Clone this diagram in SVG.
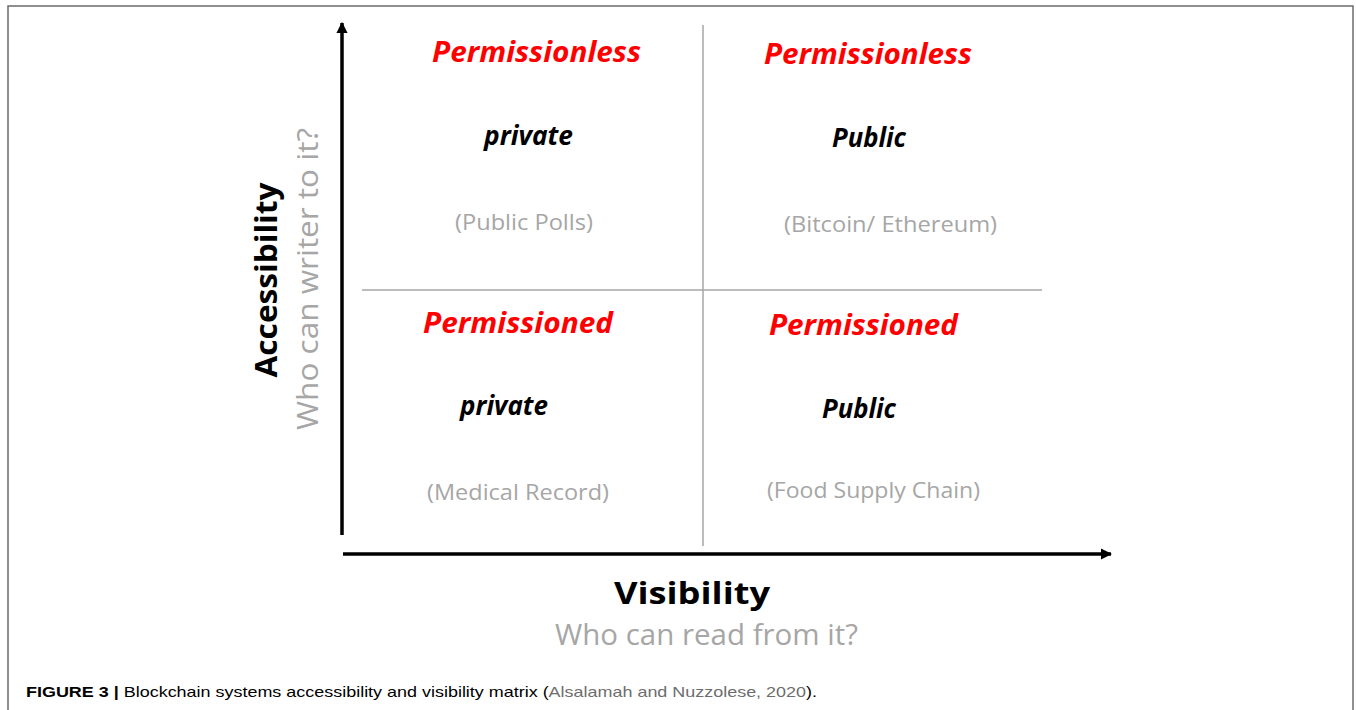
<svg xmlns="http://www.w3.org/2000/svg" width="1356" height="710" viewBox="0 0 1356 710">
<style>
.frame{fill:none;stroke:#6b6b6b;stroke-width:1.5}
.axis{stroke:#000;stroke-width:3.5;fill:none}
.grid{stroke:#a6a6a6;stroke-width:1.5;fill:none}
.cat{font-family:"Open Sans","Liberation Sans",sans-serif;font-weight:bold;font-style:italic;font-size:28px;fill:#ff0000}
.kind{font-family:"Open Sans","Liberation Sans",sans-serif;font-weight:bold;font-style:italic;font-size:26px;fill:#000}
.ex{font-family:"Open Sans","Liberation Sans",sans-serif;font-size:22px;fill:#a6a6a6}
.ttl{font-family:"Open Sans","Liberation Sans",sans-serif;font-weight:bold;font-size:30px;fill:#000}
.sub{font-family:"Open Sans","Liberation Sans",sans-serif;font-size:30px;fill:#a6a6a6}
.cap{font-family:"Liberation Sans",Arial,sans-serif;font-size:15px;fill:#000}
</style>
<defs>
<marker id="ah" viewBox="0 0 10 10" refX="9" refY="5" markerWidth="3.2" markerHeight="3.2" orient="auto" markerUnits="strokeWidth">
<path d="M0,0 L10,5 L0,10 z" fill="#000"/>
</marker>
</defs>
<rect class="frame" x="8" y="6" width="1345" height="720"/>
<g id="connectors">
<line class="grid" x1="703" y1="25" x2="703" y2="546"/>
<line class="grid" x1="362" y1="290" x2="1042" y2="290"/>
<line class="axis" x1="342" y1="535" x2="342" y2="23" marker-end="url(#ah)"/>
<line class="axis" x1="343" y1="554" x2="1111" y2="554" marker-end="url(#ah)"/>
</g>
<g id="q-top-left">
<text class="cat" x="432" y="62" textLength="209" lengthAdjust="spacingAndGlyphs">Permissionless</text>
<text class="kind" x="484" y="145" textLength="89" lengthAdjust="spacingAndGlyphs">private</text>
<text class="ex" x="455" y="230" textLength="138" lengthAdjust="spacingAndGlyphs">(Public Polls)</text>
</g>
<g id="q-top-right">
<text class="cat" x="764" y="64" textLength="208" lengthAdjust="spacingAndGlyphs">Permissionless</text>
<text class="kind" x="832" y="147" textLength="74" lengthAdjust="spacingAndGlyphs">Public</text>
<text class="ex" x="784" y="232" textLength="213" lengthAdjust="spacingAndGlyphs">(Bitcoin/ Ethereum)</text>
</g>
<g id="q-bottom-left">
<text class="cat" x="423" y="333" textLength="190" lengthAdjust="spacingAndGlyphs">Permissioned</text>
<text class="kind" x="460" y="415" textLength="88" lengthAdjust="spacingAndGlyphs">private</text>
<text class="ex" x="427" y="500" textLength="182" lengthAdjust="spacingAndGlyphs">(Medical Record)</text>
</g>
<g id="q-bottom-right">
<text class="cat" x="769" y="335" textLength="189" lengthAdjust="spacingAndGlyphs">Permissioned</text>
<text class="kind" x="822" y="418" textLength="74" lengthAdjust="spacingAndGlyphs">Public</text>
<text class="ex" x="767" y="498" textLength="213" lengthAdjust="spacingAndGlyphs">(Food Supply Chain)</text>
</g>
<g id="x-label">
<text class="ttl" x="614" y="604" textLength="156" lengthAdjust="spacingAndGlyphs">Visibility</text>
<text class="sub" x="555" y="645" textLength="303" lengthAdjust="spacingAndGlyphs">Who can read from it?</text>
</g>
<g id="y-label">
<text class="ttl" text-anchor="middle" transform="translate(277,280) rotate(-90)" textLength="195" lengthAdjust="spacingAndGlyphs">Accessibility</text>
<text class="sub" text-anchor="middle" transform="translate(318,279) rotate(-90)" textLength="302" lengthAdjust="spacingAndGlyphs">Who can writer to it?</text>
</g>
<g id="caption">
<text class="cap" x="26" y="697" textLength="791" lengthAdjust="spacingAndGlyphs"><tspan font-weight="bold">FIGURE 3 | </tspan>Blockchain systems accessibility and visibility matrix (<tspan fill="#6d6d6d">Alsalamah and Nuzzolese, 2020</tspan>).</text>
</g>
</svg>
